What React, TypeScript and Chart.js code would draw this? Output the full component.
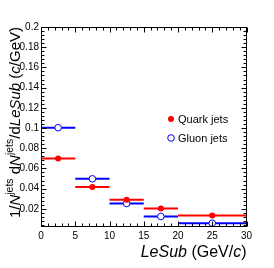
import React, { useEffect, useRef } from "react";
import { Chart, registerables } from "chart.js";

Chart.register(...registerables);

// ---- data ----
const binLow = [0, 5, 10, 15, 20];
const binHigh = [5, 10, 15, 20, 30];
const binCenter = [2.5, 7.5, 12.5, 17.5, 25];
const quarkValues = [0.0698, 0.0415, 0.0291, 0.0203, 0.0134];
const gluonValues = [0.1003, 0.0497, 0.0252, 0.0124, 0.0058];
const seriesLabels = ["Quark jets", "Gluon jets"];
const xTickValues = [0, 5, 10, 15, 20, 25, 30];
const yTickValues = [0.02, 0.04, 0.06, 0.08, 0.1, 0.12, 0.14, 0.16, 0.18, 0.2];
const xRange = [0, 30];
const yRange = [0.002, 0.2];
const minorDivisions = 5;

const FONT = "'Liberation Sans', Arial, Helvetica, sans-serif";
const RED = "#ff0000";
const BLUE = "#0000ff";

type Seg = { t: string; it?: boolean; sup?: boolean };

const xTitle: Seg[] = [
  { t: "LeSub", it: true },
  { t: " (GeV/" },
  { t: "c", it: true },
  { t: ")" },
];
const yTitle: Seg[] = [
  { t: "1/" },
  { t: "N", it: true },
  { t: "jets", sup: true },
  { t: " d" },
  { t: "N", it: true },
  { t: "jets", sup: true },
  { t: "/d" },
  { t: "LeSub", it: true },
  { t: " (" },
  { t: "c", it: true },
  { t: "/GeV)" },
];

function segFont(s: Seg, size: number, supSize: number) {
  return `${s.it ? "italic " : ""}${s.sup ? supSize : size}px ${FONT}`;
}

function drawSegs(ctx: CanvasRenderingContext2D, segs: Seg[], size: number, supSize: number, supRaise: number) {
  // draws ending at local x = 0, baseline local y = 0
  let total = 0;
  for (const s of segs) {
    ctx.font = segFont(s, size, supSize);
    total += ctx.measureText(s.t).width;
  }
  let x = -total;
  ctx.textAlign = "left";
  ctx.textBaseline = "alphabetic";
  for (const s of segs) {
    ctx.font = segFont(s, size, supSize);
    ctx.fillText(s.t, x, s.sup ? -supRaise : 0);
    x += ctx.measureText(s.t).width;
  }
}

const errorBarPlugin = {
  id: "errorBars",
  beforeDatasetsDraw(chart: any) {
    const ctx = chart.ctx as CanvasRenderingContext2D;
    const xs = chart.scales.x;
    const ys = chart.scales.y;
    ctx.save();
    chart.data.datasets.forEach((ds: any) => {
      ctx.strokeStyle = ds.borderColor;
      ctx.lineWidth = 2;
      ds.data.forEach((p: any) => {
        const y = ys.getPixelForValue(p.y);
        ctx.beginPath();
        ctx.moveTo(xs.getPixelForValue(p.xMin), y);
        ctx.lineTo(xs.getPixelForValue(p.xMax), y);
        ctx.stroke();
      });
    });
    ctx.restore();
  },
};

const framePlugin = {
  id: "rootFrame",
  afterDraw(chart: any) {
    const ctx = chart.ctx as CanvasRenderingContext2D;
    const a = chart.chartArea;
    const xs = chart.scales.x;
    const ys = chart.scales.y;
    const L = Math.round(a.left) + 0.5;
    const R = Math.round(a.right) - 0.5;
    const T = Math.round(a.top) + 0.5;
    const B = Math.round(a.bottom) - 0.5;
    ctx.save();
    ctx.strokeStyle = "#000";
    ctx.lineWidth = 1;
    ctx.strokeRect(L, T, R - L, B - T);

    const major = 5;
    const minor = 3;
    // x ticks
    const xStep = (xTickValues[1] - xTickValues[0]) / minorDivisions;
    ctx.beginPath();
    for (let i = 0; xRange[0] + i * xStep <= xRange[1] + 1e-9; i++) {
      const v = xRange[0] + i * xStep;
      const len = i % minorDivisions === 0 ? major : minor;
      const px = Math.round(xs.getPixelForValue(v)) + 0.5;
      ctx.moveTo(px, B);
      ctx.lineTo(px, B - len);
      ctx.moveTo(px, T);
      ctx.lineTo(px, T + len);
    }
    // y ticks
    const yStep = (yTickValues[1] - yTickValues[0]) / minorDivisions;
    for (let i = 0; i * yStep <= yRange[1] + 1e-9; i++) {
      const v = i * yStep;
      if (v < yRange[0]) continue;
      const len = i % minorDivisions === 0 ? major : minor;
      const py = Math.round(ys.getPixelForValue(v)) + 0.5;
      ctx.moveTo(L, py);
      ctx.lineTo(L + len, py);
      ctx.moveTo(R, py);
      ctx.lineTo(R - len, py);
    }
    ctx.stroke();

    // axis titles
    ctx.fillStyle = "#000";
    ctx.save();
    ctx.translate(a.right, 256.5);
    drawSegs(ctx, xTitle, 16, 11, 6);
    ctx.restore();

    ctx.save();
    ctx.translate(19.5, a.top);
    ctx.rotate(-Math.PI / 2);
    drawSegs(ctx, yTitle, 15, 10.5, 7);
    ctx.restore();

    // legend
    const lx = 171;
    const rows = [119, 138];
    chart.data.datasets.forEach((ds: any, i: number) => {
      const y = rows[i];
      ctx.beginPath();
      ctx.arc(lx, y, ds.pointRadius, 0, Math.PI * 2);
      if (ds.pointBackgroundColor !== "#ffffff") {
        ctx.fillStyle = ds.pointBackgroundColor;
        ctx.fill();
      } else {
        ctx.fillStyle = "#ffffff";
        ctx.fill();
        ctx.strokeStyle = ds.borderColor;
        ctx.lineWidth = 1;
        ctx.stroke();
      }
      ctx.fillStyle = "#000";
      ctx.font = `11px ${FONT}`;
      ctx.textAlign = "left";
      ctx.textBaseline = "middle";
      ctx.fillText(ds.label, 178, y + 0.5);
    });
    ctx.restore();
  },
};

export default function App() {
  const canvasRef = useRef<HTMLCanvasElement | null>(null);

  useEffect(() => {
    const canvas = canvasRef.current;
    if (!canvas) return;
    const mk = (vals: number[]) =>
      vals.map((v, i) => ({ x: binCenter[i], y: v, xMin: binLow[i], xMax: binHigh[i] }));

    const chart = new Chart(canvas, {
      type: "scatter",
      data: {
        datasets: [
          {
            label: seriesLabels[0],
            data: mk(quarkValues) as any,
            borderColor: RED,
            backgroundColor: RED,
            pointBackgroundColor: RED,
            pointBorderColor: RED,
            pointBorderWidth: 0,
            pointRadius: 3,
            showLine: false,
          },
          {
            label: seriesLabels[1],
            data: mk(gluonValues) as any,
            borderColor: BLUE,
            backgroundColor: "#ffffff",
            pointBackgroundColor: "#ffffff",
            pointBorderColor: BLUE,
            pointBorderWidth: 1,
            pointRadius: 3.3,
            showLine: false,
          },
        ],
      },
      options: {
        responsive: false,
        animation: false,
        devicePixelRatio: 1,
        layout: { padding: { top: 27, right: 27.5, left: 0, bottom: 0 } },
        plugins: { legend: { display: false }, tooltip: { enabled: false } },
        scales: {
          x: {
            type: "linear",
            min: xRange[0],
            max: xRange[1],
            grid: { display: false, drawTicks: false, tickLength: 0 },
            border: { display: false },
            afterBuildTicks: (s: any) => {
              s.ticks = xTickValues.map((v) => ({ value: v }));
            },
            afterFit: (s: any) => {
              s.height = 41;
            },
            ticks: {
              color: "#000",
              font: { family: FONT, size: 10 },
              padding: 3,
              maxRotation: 0,
              autoSkip: false,
              callback: (v: any) => String(v),
            },
          },
          y: {
            type: "linear",
            min: yRange[0],
            max: yRange[1],
            grid: { display: false, drawTicks: false, tickLength: 0 },
            border: { display: false },
            afterBuildTicks: (s: any) => {
              s.ticks = yTickValues.map((v) => ({ value: v }));
            },
            afterFit: (s: any) => {
              s.width = 41;
            },
            ticks: {
              color: "#000",
              font: { family: FONT, size: 10 },
              padding: 2,
              autoSkip: false,
              callback: (v: any) => String(Number(Number(v).toFixed(3))),
            },
          },
        },
      },
      plugins: [errorBarPlugin, framePlugin],
    });
    return () => chart.destroy();
  }, []);

  return (
    <div style={{ position: "absolute", left: 0, top: 0, width: 274, height: 268, background: "#fff" }}>
      <canvas ref={canvasRef} width={274} height={268} style={{ display: "block" }} />
    </div>
  );
}
